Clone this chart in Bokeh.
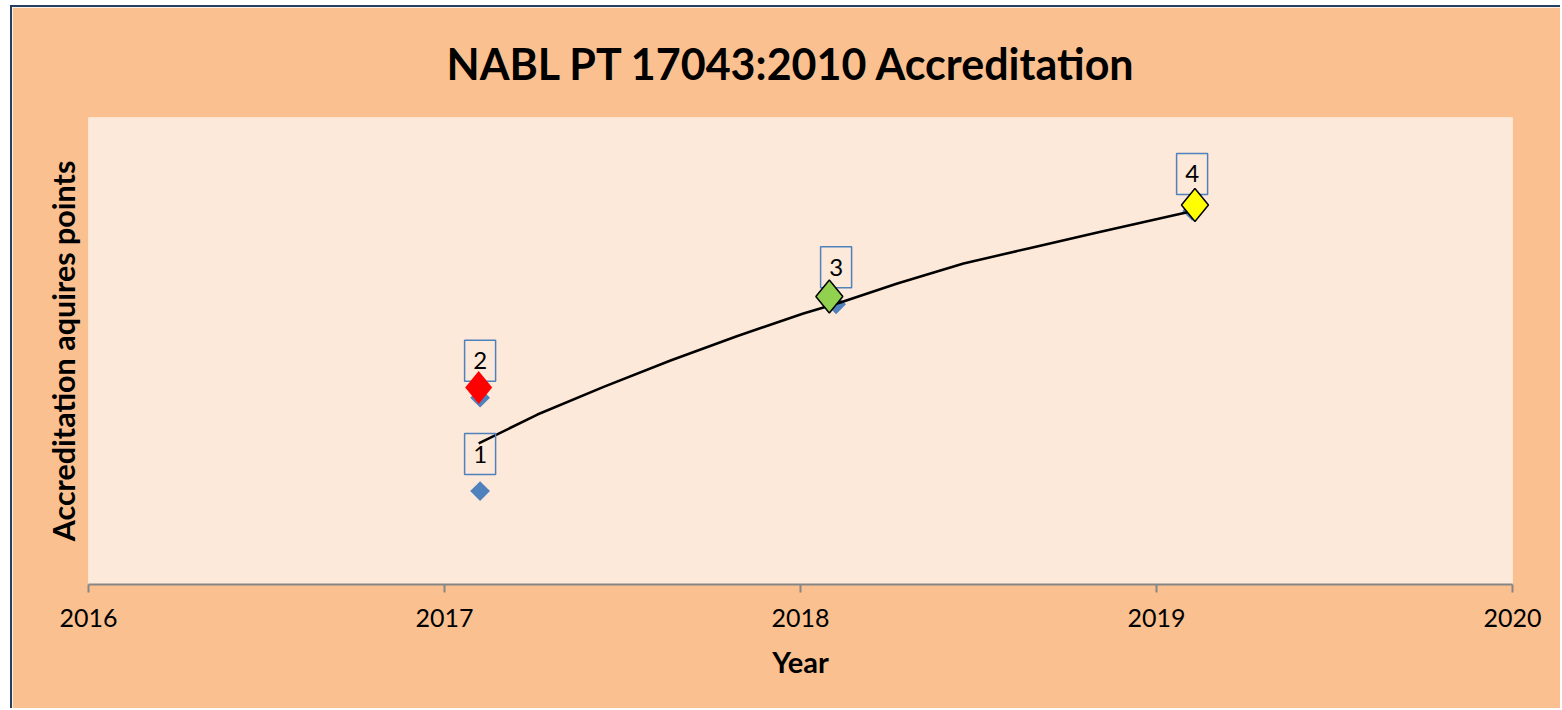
from bokeh.plotting import figure
from bokeh.models import FixedTicker, ColumnDataSource
from bokeh.core.properties import value
from bokeh.embed import file_html
from bokeh.resources import INLINE

# ---------------- data ----------------
chart_title = "NABL PT 17043:2010 Accreditation"
x_title = "Year"
y_title = "Accreditation aquires points"
tick_years = [2016, 2017, 2018, 2019, 2020]
tick_labels = ["2016", "2017", "2018", "2019", "2020"]

point_x = [2017.1, 2017.1, 2018.1, 2019.1]
point_y = [1, 2, 3, 4]
point_labels = ["1", "2", "3", "4"]

highlight_x = [2017.096, 2018.081, 2019.108]
highlight_y = [2.109, 3.084, 4.063]
highlight_colors = ["#FF0000", "#92D050", "#FFFF00"]
highlight_outline_alpha = [0.0, 1.0, 1.0]

trend_x = [2017.096, 2017.261, 2017.447, 2017.635, 2017.823, 2018.008,
           2018.112, 2018.272, 2018.458, 2018.646, 2018.834, 2019.096]
trend_y = [1.510, 1.820, 2.115, 2.398, 2.661, 2.901,
           3.019, 3.223, 3.437, 3.603, 3.769, 3.994]

# ---------------- layout constants ----------------
X0, X1 = 2016, 2020
Y0, Y1 = 0, 5
FRAME_W, FRAME_H = 1424, 467
px_x = FRAME_W / (X1 - X0)
px_y = FRAME_H / (Y1 - Y0)

p = figure(width=1550, height=703, x_range=(X0, X1), y_range=(Y0, Y1),
           output_backend="svg", toolbar_location=None,
           min_border_left=76, min_border_right=50,
           min_border_top=110, min_border_bottom=126)
p.styles = {"margin-left": "10px", "margin-top": "5px",
            "border-left": "2px solid #243F60", "border-top": "2px solid #243F60"}

p.background_fill_color = "#FDE9D9"
p.border_fill_color = "#FAC090"
p.outline_line_color = None
p.xgrid.visible = False
p.ygrid.visible = False

p.title.text = chart_title
p.title.align = "left"
p.title.offset = 358
p.title.text_font = "Lato"
p.title.text_font_style = "bold"
p.title.text_font_size = "43px"
p.title.text_color = "black"
p.title.standoff = 57

xa = p.xaxis[0]
xa.ticker = FixedTicker(ticks=tick_years)
xa.major_label_overrides = {y: l for y, l in zip(tick_years, tick_labels)}
xa.axis_line_color = "#868686"
xa.axis_line_width = 2
xa.major_tick_line_color = "#868686"
xa.major_tick_line_width = 2
xa.major_tick_out = 8
xa.major_tick_in = 0
xa.minor_tick_line_color = None
xa.major_label_text_font = "Lato"
xa.major_label_text_font_size = "25px"
xa.major_label_text_color = "black"
xa.major_label_standoff = 16
xa.axis_label = x_title
xa.axis_label_text_font = "Lato"
xa.axis_label_text_font_style = "bold"
xa.axis_label_text_font_size = "29px"
xa.axis_label_text_color = "black"
xa.axis_label_standoff = 14

ya = p.yaxis[0]
ya.ticker = FixedTicker(ticks=[])
ya.axis_line_color = None
ya.major_tick_line_color = None
ya.minor_tick_line_color = None
ya.major_tick_out = 0
ya.major_label_standoff = 0
ya.major_label_text_font_size = "0px"
ya.axis_label = y_title
ya.axis_label_text_font = "Lato"
ya.axis_label_text_font_style = "bold"
ya.axis_label_text_font_size = "30.5px"
ya.axis_label_text_color = "black"
ya.axis_label_standoff = 8

# blue series markers (rotated squares = diamonds)
p.scatter(point_x, point_y, marker="square", angle=0.7853981634, size=14,
          fill_color="#4F81BD", line_color=None)

# trend line
p.line(trend_x, trend_y, line_color="black", line_width=2.5, line_join="round")

# data label boxes
LABEL_OFF = 37 / px_y
label_src = ColumnDataSource(dict(x=point_x, y=[v + LABEL_OFF for v in point_y], t=point_labels))
p.rect("x", "y", width=31, height=41, width_units="screen", height_units="screen",
       source=label_src, fill_color=None, line_color="#4F81BD", line_width=1.5)
p.text("x", "y", text="t", source=label_src, text_align="center", text_baseline="middle",
       text_font=value("Lato"), text_font_size="24px", text_color="black")

# highlighted diamonds
hw = 13.5 / px_x
hh = 16.5 / px_y
hl_src = ColumnDataSource(dict(
    xs=[[x - hw, x, x + hw, x] for x in highlight_x],
    ys=[[y, y + hh, y, y - hh] for y in highlight_y],
    c=highlight_colors, la=highlight_outline_alpha))
p.patches("xs", "ys", source=hl_src, fill_color="c", line_color="black",
          line_alpha="la", line_width=1.5)

open("out.html", "w").write(file_html(p, INLINE))
